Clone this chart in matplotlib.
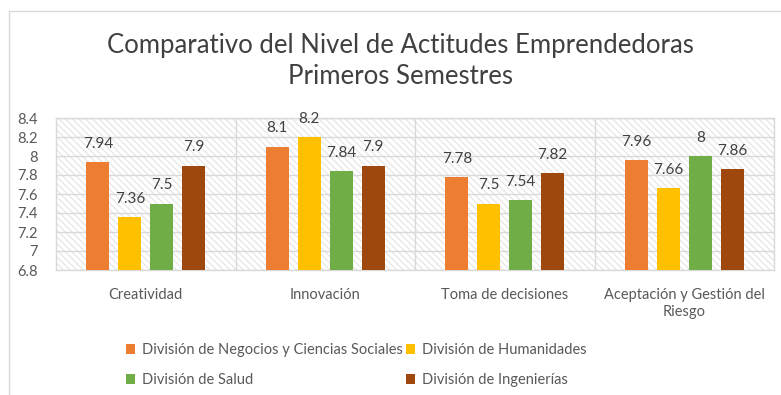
import matplotlib
matplotlib.use("Agg")
import matplotlib.pyplot as plt
import numpy as np
from matplotlib.patches import Rectangle
from matplotlib.lines import Line2D

# Puntajes promedio por actitud y división
categorias = ["Creatividad", "Innovación", "Toma de decisiones",
              "Aceptación y Gestión del\nRiesgo"]
divisiones = ["División de Negocios y Ciencias Sociales",
              "División de Humanidades",
              "División de Salud",
              "División de Ingenierías"]
negocios = [7.94, 8.1, 7.78, 7.96]
humanidades = [7.36, 8.2, 7.5, 7.66]
salud = [7.5, 7.84, 7.54, 8]
ingenierias = [7.9, 7.9, 7.82, 7.86]
etiquetas = [["7.94", "8.1", "7.78", "7.96"],
             ["7.36", "8.2", "7.5", "7.66"],
             ["7.5", "7.84", "7.54", "8"],
             ["7.9", "7.9", "7.82", "7.86"]]
y_ticks = [6.8, 7, 7.2, 7.4, 7.6, 7.8, 8, 8.2, 8.4]
y_ticklabels = ["6.8", "7", "7.2", "7.4", "7.6", "7.8", "8", "8.2", "8.4"]

colores = ["#ED7D31", "#FFC000", "#70AD47", "#9E480E"]
gris_texto = "#595959"
gris_linea = "#D9D9D9"

plt.rcParams["font.family"] = ["Lato", "DejaVu Sans"]
plt.rcParams["hatch.color"] = "#E3E3E3"
plt.rcParams["hatch.linewidth"] = 0.8

fig = plt.figure(figsize=(7.81, 3.95), dpi=100)
ax = fig.add_axes([56 / 781, 1 - 270 / 395, 718 / 781, 152 / 395])

# fondo rayado del área de trazado
ax.add_patch(Rectangle((0, 0), 1, 1, transform=ax.transAxes, facecolor="white",
                       edgecolor="#E3E3E3", hatch="\\\\\\\\\\", linewidth=0, zorder=0))

x = np.arange(len(categorias))
ancho = 0.128
paso = 0.178
series = [negocios, humanidades, salud, ingenierias]
for i, (valores, color) in enumerate(zip(series, colores)):
    pos = x + (i - 1.5) * paso
    ax.bar(pos, np.array(valores) - 6.8, bottom=6.8, width=ancho, color=color,
           label=divisiones[i], zorder=3)
    for xp, v, txt in zip(pos, valores, etiquetas[i]):
        ax.annotate(txt, (xp, v), xytext=(0, 8), textcoords="offset points",
                    ha="center", va="bottom", fontsize=11, color="#404040",
                    clip_on=False, zorder=4)

ax.set_xlim(-0.5, 3.5)
ax.set_ylim(6.8, 8.4)
ax.set_yticks(y_ticks)
ax.set_yticklabels(y_ticklabels)
ax.set_xticks(x)
ax.set_xticklabels(categorias, linespacing=1.3)
ax.tick_params(axis="y", length=0, pad=13, labelsize=10.5, labelcolor=gris_texto)
ax.tick_params(axis="x", length=0, pad=13, labelsize=10.5, labelcolor=gris_texto)

ax.set_axisbelow(True)
ax.grid(axis="y", color=gris_linea, linewidth=1, zorder=1)
for xv in [0.5, 1.5, 2.5]:
    ax.axvline(xv, color=gris_linea, linewidth=1, zorder=1)
for s in ax.spines.values():
    s.set_color(gris_linea)
    s.set_linewidth(1)

fig.text(400 / 781, 1 - 61 / 395,
         "Comparativo del Nivel de Actitudes Emprendedoras\nPrimeros Semestres",
         ha="center", va="center", fontsize=18.5, fontweight="normal",
         color="#404040", linespacing=1.25)

# leyenda en dos filas (se llena por columnas)
handles, labels = ax.get_legend_handles_labels()
orden = [0, 2, 1, 3]
fig.legend([handles[k] for k in orden], [labels[k] for k in orden],
           loc="upper left", bbox_to_anchor=(113 / 781, 1 - 330 / 395), ncol=2,
           frameon=False, fontsize=10.5, labelcolor=gris_texto,
           handlelength=0.6, handleheight=0.6, handletextpad=0.5,
           columnspacing=0.2, labelspacing=1.1)

# borde del área del gráfico
fig.add_artist(Line2D([9 / 781, 1], [1 - 11 / 395, 1 - 11 / 395],
                      color=gris_linea, linewidth=1))
fig.add_artist(Line2D([9 / 781, 9 / 781], [0, 1 - 11 / 395],
                      color=gris_linea, linewidth=1))

fig.savefig("out.png", dpi=100, facecolor="white")
